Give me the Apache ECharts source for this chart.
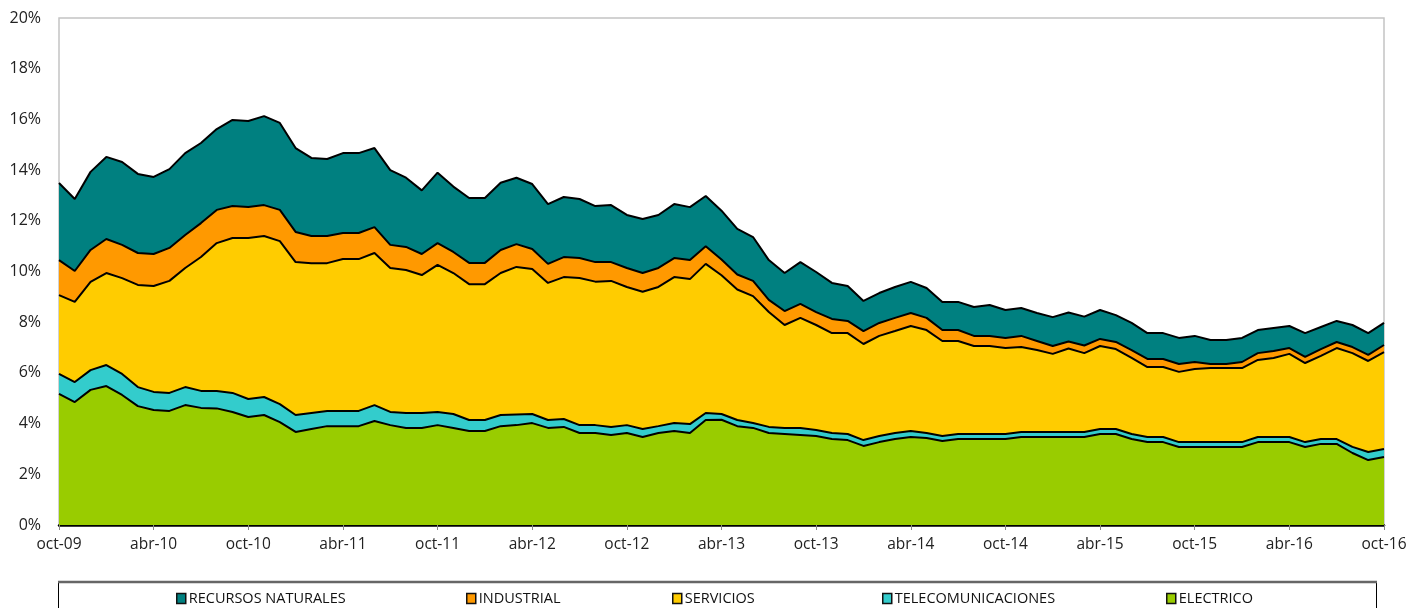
<!DOCTYPE html>
<html>
<head>
<meta charset="utf-8">
<script src="https://cdn.jsdelivr.net/npm/echarts@6/dist/echarts.min.js"></script>
<style>
html,body{margin:0;padding:0;background:#fff;}
#chart{width:1422px;height:608px;}
</style>
</head>
<body>
<div id="chart"></div>
<script>
const categories = [
  'oct-09','nov-09','dic-09',
  'ene-10','feb-10','mar-10','abr-10','may-10','jun-10','jul-10','ago-10','sep-10','oct-10','nov-10','dic-10',
  'ene-11','feb-11','mar-11','abr-11','may-11','jun-11','jul-11','ago-11','sep-11','oct-11','nov-11','dic-11',
  'ene-12','feb-12','mar-12','abr-12','may-12','jun-12','jul-12','ago-12','sep-12','oct-12','nov-12','dic-12',
  'ene-13','feb-13','mar-13','abr-13','may-13','jun-13','jul-13','ago-13','sep-13','oct-13','nov-13','dic-13',
  'ene-14','feb-14','mar-14','abr-14','may-14','jun-14','jul-14','ago-14','sep-14','oct-14','nov-14','dic-14',
  'ene-15','feb-15','mar-15','abr-15','may-15','jun-15','jul-15','ago-15','sep-15','oct-15','nov-15','dic-15',
  'ene-16','feb-16','mar-16','abr-16','may-16','jun-16','jul-16','ago-16','sep-16','oct-16'
];

const electrico = [
  5.17,4.85,5.33,5.48,5.13,4.69,4.54,4.50,4.73,4.62,
  4.60,4.46,4.26,4.34,4.06,3.67,3.79,3.90,3.90,3.90,
  4.10,3.94,3.83,3.83,3.94,3.83,3.71,3.71,3.90,3.94,
  4.02,3.83,3.87,3.63,3.63,3.55,3.63,3.47,3.63,3.71,
  3.63,4.14,4.15,3.90,3.83,3.63,3.59,3.55,3.51,3.39,
  3.35,3.12,3.27,3.39,3.47,3.43,3.31,3.39,3.39,3.39,
  3.39,3.47,3.47,3.47,3.47,3.47,3.59,3.59,3.39,3.27,
  3.27,3.08,3.08,3.08,3.08,3.08,3.27,3.27,3.27,3.08,
  3.20,3.20,2.84,2.56,2.68
];
const telecomunicaciones = [
  0.79,0.79,0.78,0.83,0.83,0.75,0.71,0.71,0.71,0.67,
  0.69,0.75,0.71,0.71,0.71,0.67,0.63,0.60,0.60,0.60,
  0.63,0.52,0.59,0.59,0.52,0.55,0.43,0.43,0.44,0.42,
  0.36,0.31,0.31,0.31,0.31,0.32,0.31,0.32,0.27,0.31,
  0.35,0.28,0.23,0.24,0.19,0.24,0.24,0.28,0.24,0.24,
  0.24,0.23,0.24,0.24,0.24,0.20,0.20,0.20,0.20,0.20,
  0.20,0.20,0.20,0.20,0.20,0.20,0.20,0.20,0.20,0.20,
  0.20,0.19,0.19,0.19,0.19,0.19,0.20,0.20,0.20,0.19,
  0.19,0.19,0.24,0.32,0.32
];
const servicios = [
  3.11,3.16,3.48,3.63,3.78,4.03,4.18,4.42,4.70,5.28,
  5.83,6.11,6.35,6.35,6.43,6.03,5.91,5.83,5.99,5.99,
  6.00,5.68,5.64,5.44,5.80,5.56,5.36,5.36,5.60,5.82,
  5.72,5.41,5.60,5.80,5.66,5.76,5.45,5.41,5.49,5.76,
  5.72,5.88,5.47,5.15,5.01,4.53,4.06,4.34,4.14,3.94,
  3.98,3.79,3.95,4.02,4.14,4.06,3.75,3.67,3.47,3.47,
  3.39,3.35,3.23,3.08,3.29,3.11,3.27,3.15,3.00,2.76,
  2.76,2.77,2.88,2.92,2.92,2.92,3.04,3.12,3.28,3.12,
  3.28,3.59,3.70,3.59,3.82
];
const industrial = [
  1.38,1.22,1.26,1.34,1.31,1.26,1.26,1.30,1.30,1.34,
  1.31,1.26,1.22,1.22,1.23,1.19,1.07,1.07,1.03,1.03,
  1.02,0.91,0.91,0.83,0.86,0.83,0.84,0.84,0.91,0.90,
  0.79,0.75,0.79,0.79,0.77,0.74,0.75,0.74,0.75,0.75,
  0.75,0.70,0.62,0.59,0.60,0.48,0.55,0.55,0.51,0.56,
  0.48,0.51,0.51,0.52,0.51,0.48,0.43,0.43,0.40,0.40,
  0.40,0.44,0.36,0.31,0.28,0.30,0.28,0.28,0.31,0.32,
  0.32,0.31,0.28,0.16,0.16,0.24,0.27,0.27,0.23,0.24,
  0.27,0.24,0.24,0.24,0.28
];
const recursosNaturales = [
  3.04,2.84,3.08,3.24,3.27,3.12,3.04,3.11,3.23,3.16,
  3.19,3.40,3.40,3.51,3.43,3.31,3.08,3.04,3.15,3.15,
  3.12,2.95,2.73,2.51,2.78,2.58,2.56,2.56,2.65,2.62,
  2.56,2.36,2.37,2.33,2.21,2.25,2.09,2.13,2.09,2.13,
  2.09,1.98,1.93,1.80,1.73,1.57,1.50,1.65,1.58,1.42,
  1.38,1.19,1.18,1.22,1.23,1.18,1.11,1.11,1.14,1.22,
  1.10,1.10,1.10,1.14,1.14,1.14,1.14,1.06,1.07,1.02,
  1.02,1.03,1.03,0.95,0.95,0.95,0.91,0.91,0.87,0.94,
  0.87,0.83,0.87,0.86,0.87
];

const seriesNames = ['ELECTRICO','TELECOMUNICACIONES','SERVICIOS','INDUSTRIAL','RECURSOS NATURALES'];
const seriesData = [electrico, telecomunicaciones, servicios, industrial, recursosNaturales];
const seriesColors = ['#99CC00','#33CCCC','#FFCC00','#FF9900','#008080'];

const legendOrder = ['RECURSOS NATURALES','INDUSTRIAL','SERVICIOS','TELECOMUNICACIONES','ELECTRICO'];
const legendLeft = [176, 466, 672, 882, 1166];

const FONT = "'Open Sans', 'Liberation Sans', sans-serif";

const chart = echarts.init(document.getElementById('chart'), null, {renderer:'canvas'});

const series = seriesNames.map((name, i) => ({
  name: name,
  type: 'line',
  stack: 'total',
  data: seriesData[i],
  showSymbol: false,
  symbol: 'none',
  z: 10 - i,
  lineStyle: { color: '#000', width: 2 },
  itemStyle: { color: seriesColors[i], borderColor: '#111', borderWidth: 1.5 },
  areaStyle: { color: seriesColors[i], opacity: 1 },
  emphasis: { disabled: true },
  animation: false
}));

const legends = legendOrder.map((name, i) => ({
  data: [name],
  left: legendLeft[i],
  top: 591,
  padding: 0,
  icon: 'rect',
  itemWidth: 9,
  itemHeight: 10,
  itemGap: 5,
  selectedMode: false,
  itemStyle: { borderColor: '#111', borderWidth: 1.5 },
  textStyle: { fontFamily: FONT, fontSize: 14.5, color: '#111', padding: [0,0,0,-2] }
}));

chart.setOption({
  animation: false,
  backgroundColor: '#fff',
  grid: {
    left: 59, right: 38, top: 18, bottom: 83,
    show: true, borderColor: '#c4c4c4', borderWidth: 1.5, backgroundColor: 'transparent'
  },
  legend: legends,
  xAxis: {
    type: 'category',
    data: categories,
    boundaryGap: false,
    axisLine: { show: true, lineStyle: { color: '#000', width: 2.5 } },
    axisTick: { show: true, interval: 5, length: 5, lineStyle: { color: '#888', width: 1 } },
    axisLabel: { interval: 5, margin: 12, fontFamily: FONT, fontSize: 15.5, color: '#222' },
    splitLine: { show: false }
  },
  yAxis: {
    type: 'value',
    min: 0, max: 20, interval: 2,
    axisLine: { show: false },
    axisTick: { show: false },
    splitLine: { show: false },
    axisLabel: { formatter: '{value}%', margin: 18, fontFamily: FONT, fontSize: 16, color: '#222' }
  },
  graphic: [
    { type: 'rect', silent: true, z: 0,
      shape: { x: 58.5, y: 582.5, width: 1318, height: 40 },
      style: { fill: '#fff', stroke: '#000', lineWidth: 1 } },
    { type: 'line', silent: true, z: 1,
      shape: { x1: 58, y1: 582, x2: 1377, y2: 582 },
      style: { stroke: '#666', lineWidth: 2.5 } }
  ],
  series: series
});
</script>
</body>
</html>
